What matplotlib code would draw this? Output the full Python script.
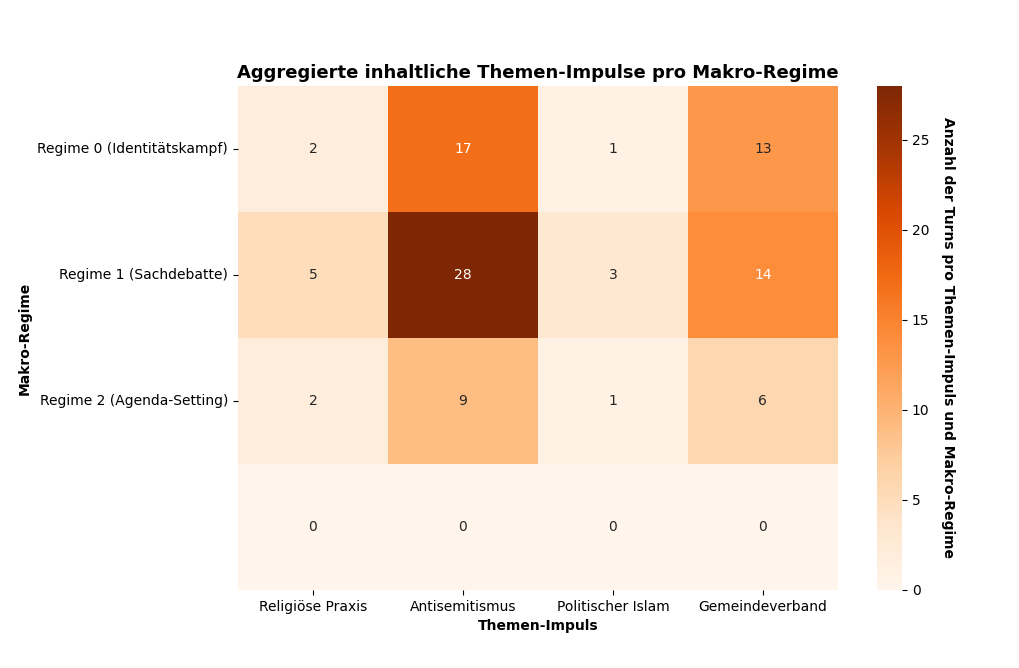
import matplotlib
matplotlib.use("Agg")
import matplotlib.pyplot as plt
import seaborn as sns
import numpy as np

themen = ["Religiöse Praxis", "Antisemitismus", "Politischer Islam", "Gemeindeverband"]
regime = ["Regime 0 (Identitätskampf)", "Regime 1 (Sachdebatte)", "Regime 2 (Agenda-Setting)", ""]

werte = np.array([
    [2, 17, 1, 13],
    [5, 28, 3, 14],
    [2, 9, 1, 6],
    [0, 0, 0, 0],
])

fig = plt.figure(figsize=(10.2, 6.68), dpi=100)
ax = fig.add_axes([0.2333, 0.1168, 0.5882, 0.7545])
cax = fig.add_axes([0.860, 0.1168, 0.0245, 0.7545])

sns.heatmap(werte, annot=True, fmt="d", cmap="Oranges", vmin=0, vmax=28,
            xticklabels=themen, yticklabels=regime, ax=ax, cbar_ax=cax,
            annot_kws={"fontsize": 10})

ax.set_yticks([0.5, 1.5, 2.5])
ax.set_yticklabels(regime[:3], rotation=0, fontsize=10)
ax.set_xticklabels(themen, rotation=0, fontsize=10)

ax.set_title("Aggregierte inhaltliche Themen-Impulse pro Makro-Regime",
             fontsize=13, fontweight="bold")
ax.set_xlabel("Themen-Impuls", fontsize=10, fontweight="bold")
ax.set_ylabel("Makro-Regime", fontsize=10, fontweight="bold")

cax.set_ylabel("Anzahl der Turns pro Themen-Impuls und Makro-Regime",
               rotation=270, labelpad=18, fontsize=10, fontweight="bold")
cax.tick_params(labelsize=10)

fig.savefig("out.png", dpi=100)
